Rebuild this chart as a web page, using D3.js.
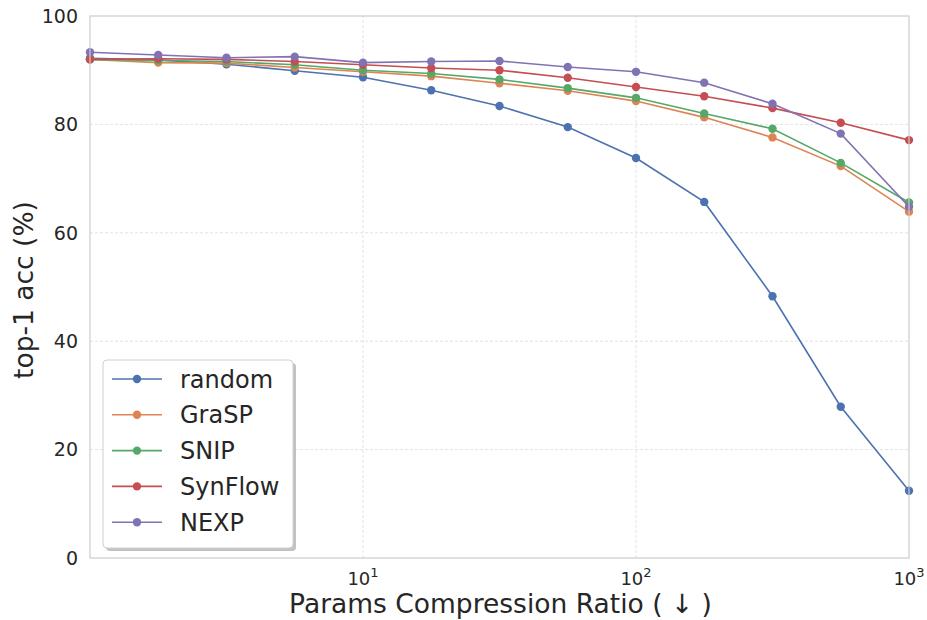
<!DOCTYPE html>
<html>
<head>
<meta charset="utf-8">
<script src="https://cdn.jsdelivr.net/npm/d3@7"></script>
<style>
  body { margin: 0; background: #fff; }
  svg { font-family: "DejaVu Sans", sans-serif; }
</style>
</head>
<body>
<svg width="927" height="620"></svg>
<script>
// compression ratios, 10^(i/4)
var ratios = [1, 1.778, 3.162, 5.623, 10, 17.78, 31.62, 56.23, 100, 177.8, 316.2, 562.3, 1000];

var seriesNames = ["random", "GraSP", "SNIP", "SynFlow", "NEXP"];
var colors = ["#4C72B0", "#DD8452", "#55A868", "#C44E52", "#8172B3"];

var randomAcc  = [92.2, 91.9, 91.1, 89.9, 88.7, 86.3, 83.4, 79.5, 73.8, 65.7, 48.3, 27.9, 12.4];
var graspAcc   = [92.0, 91.4, 91.3, 90.5, 89.7, 88.9, 87.6, 86.2, 84.3, 81.3, 77.6, 72.3, 63.9];
var snipAcc    = [92.0, 91.8, 91.6, 91.0, 90.0, 89.4, 88.3, 86.7, 84.9, 82.0, 79.2, 72.9, 65.6];
var synflowAcc = [92.0, 92.1, 92.0, 91.6, 91.0, 90.4, 90.0, 88.6, 86.9, 85.2, 83.0, 80.3, 77.1];
var nexpAcc    = [93.3, 92.8, 92.3, 92.5, 91.4, 91.6, 91.7, 90.6, 89.7, 87.7, 83.8, 78.3, 64.8];

var yTicks = [0, 20, 40, 60, 80, 100];
var xTicks = [10, 100, 1000];
var xTickExp = ["1", "2", "3"];

var allSeries = [randomAcc, graspAcc, snipAcc, synflowAcc, nexpAcc];

var svg = d3.select("svg");
var margin = {left: 90, right: 18, top: 16, bottom: 62};
var width = 927, height = 620;

var x = d3.scaleLog().domain([1, 1000]).range([margin.left, width - margin.right]);
var y = d3.scaleLinear().domain([0, 100]).range([height - margin.bottom, margin.top]);

var textColor = "#262626";

// grid
var grid = svg.append("g");
grid.selectAll("line.gy")
  .data(yTicks.slice(1, -1))
  .enter().append("line")
  .attr("x1", x(1)).attr("x2", x(1000))
  .attr("y1", function(d) { return y(d); })
  .attr("y2", function(d) { return y(d); })
  .attr("stroke", "#dcdcdc").attr("stroke-width", 0.8)
  .attr("stroke-dasharray", "3,2");
grid.selectAll("line.gx")
  .data(xTicks.slice(0, -1))
  .enter().append("line")
  .attr("y1", y(0)).attr("y2", y(100))
  .attr("x1", function(d) { return x(d); })
  .attr("x2", function(d) { return x(d); })
  .attr("stroke", "#dcdcdc").attr("stroke-width", 0.8)
  .attr("stroke-dasharray", "3,2");

// y tick labels
svg.append("g").selectAll("text")
  .data(yTicks)
  .enter().append("text")
  .attr("x", margin.left - 12)
  .attr("y", function(d) { return y(d); })
  .attr("dy", "0.36em")
  .attr("text-anchor", "end")
  .attr("font-size", 19)
  .attr("fill", textColor)
  .text(function(d) { return d; });

// x tick labels (10^n)
var xt = svg.append("g").selectAll("text")
  .data(xTicks)
  .enter().append("text")
  .attr("x", function(d) { return x(d); })
  .attr("y", y(0) + 27)
  .attr("text-anchor", "middle")
  .attr("font-size", 18)
  .attr("fill", textColor);
xt.append("tspan").text("10");
xt.append("tspan")
  .attr("font-size", 13)
  .attr("dy", -8)
  .text(function(d, i) { return xTickExp[i]; });

// axis titles
svg.append("text")
  .attr("x", 500.5)
  .attr("y", 613)
  .attr("text-anchor", "middle")
  .attr("font-size", 26.5)
  .attr("fill", textColor)
  .text("Params Compression Ratio ( \u2193 )");

svg.append("text")
  .attr("transform", "translate(33,290) rotate(-90)")
  .attr("text-anchor", "middle")
  .attr("font-size", 26.5)
  .attr("fill", textColor)
  .text("top-1 acc (%)");

// lines and markers
var line = d3.line()
  .x(function(d, i) { return x(ratios[i]); })
  .y(function(d) { return y(d); });

allSeries.forEach(function(vals, k) {
  var g = svg.append("g");
  g.append("path")
    .datum(vals)
    .attr("d", line)
    .attr("fill", "none")
    .attr("stroke", colors[k])
    .attr("stroke-width", 1.6);
  g.selectAll("circle")
    .data(vals)
    .enter().append("circle")
    .attr("cx", function(d, i) { return x(ratios[i]); })
    .attr("cy", function(d) { return y(d); })
    .attr("r", 4.2)
    .attr("fill", colors[k]);
});

// frame
svg.append("rect")
  .attr("x", x(1)).attr("y", y(100))
  .attr("width", x(1000) - x(1)).attr("height", y(0) - y(100))
  .attr("fill", "none")
  .attr("stroke", "#cccccc").attr("stroke-width", 1.2);

// legend
var lg = svg.append("g").attr("transform", "translate(103,360)");
lg.append("rect")
  .attr("x", 3).attr("y", 3).attr("width", 190).attr("height", 188)
  .attr("rx", 4).attr("fill", "#999").attr("opacity", 0.6);
lg.append("rect")
  .attr("x", 0).attr("y", 0).attr("width", 190).attr("height", 188)
  .attr("rx", 4).attr("fill", "#fff")
  .attr("stroke", "#d0d0d0").attr("stroke-width", 1);
seriesNames.forEach(function(name, k) {
  var yy = 19 + k * 35.8;
  lg.append("line")
    .attr("x1", 9).attr("x2", 59).attr("y1", yy).attr("y2", yy)
    .attr("stroke", colors[k]).attr("stroke-width", 1.6);
  lg.append("circle")
    .attr("cx", 34).attr("cy", yy).attr("r", 4.2).attr("fill", colors[k]);
  lg.append("text")
    .attr("x", 77).attr("y", yy).attr("dy", "0.36em")
    .attr("font-size", 24).attr("fill", textColor)
    .text(name);
});
</script>
</body>
</html>
